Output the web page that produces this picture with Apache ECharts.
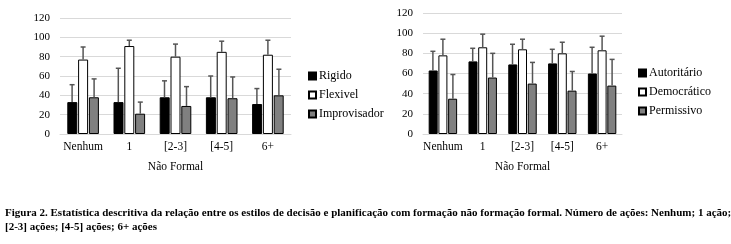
<!DOCTYPE html>
<html lang="pt">
<head>
    <meta charset="UTF-8">
    <title>Figura 2</title>
    <script src="https://cdn.jsdelivr.net/npm/echarts@6/dist/echarts.min.js"></script>
    <style>
        html, body { margin: 0; padding: 0; background: #fff; }
    </style>
</head>
<body>
   <div id="main" style="width: 731px;height:244px;"></div>
   <script type="text/javascript">
       // categorias (número de ações)
       var categorias = ['Nenhum', '1', '[2-3]', '[4-5]', '6+'];

       // gráfico da esquerda: estilos de decisão
       var nomesEsq = ['Rigido', 'Flexivel', 'Improvisador'];
       var rigido       = [33, 33, 38, 38, 31];
       var rigidoDP     = [18, 35, 17, 22, 16];
       var flexivel     = [77, 91, 80, 85, 82];
       var flexivelDP   = [13, 6, 13, 11, 15];
       var improvisador = [38, 21, 29, 37, 40];
       var improvisadorDP = [19, 12, 20, 22, 27];

       // gráfico da direita: estilos de planificação
       var nomesDir = ['Autoritário', 'Democrático', 'Permissivo'];
       var autoritario   = [63, 72, 69, 70, 60];
       var autoritarioDP = [19, 13, 20, 14, 26];
       var democratico   = [78, 86, 84, 80, 83];
       var democraticoDP = [16, 13, 10, 11, 14];
       var permissivo    = [35, 56, 50, 43, 48];
       var permissivoDP  = [24, 24, 21, 19, 26];

       var serif = 'Liberation Serif';
       var cores = ['#000000', '#ffffff', '#808080'];

       var myChart = echarts.init(document.getElementById('main'));

       function barra(nome, dados, cor, eixo, largura) {
           return {
               name: nome, type: 'bar', xAxisIndex: eixo, yAxisIndex: eixo,
               data: dados, barWidth: largura, barGap: '8%',
               itemStyle: { color: cor, borderColor: '#000', borderWidth: 1 },
               z: 2
           };
       }

       // barras de erro (só o lado positivo, como no original)
       function erro(medias, dp, pos, eixo, largura) {
           var dados = medias.map(function (m, i) { return [i, m, m + dp[i]]; });
           return {
               type: 'custom', xAxisIndex: eixo, yAxisIndex: eixo,
               data: dados, z: 3, silent: true,
               renderItem: function (params, api) {
                   var base = api.coord([api.value(0), api.value(1)]);
                   var topo = api.coord([api.value(0), api.value(2)]);
                   var x = base[0] + (pos - 1) * (largura + 1);
                   var c = 2.5;
                   var st = { stroke: '#555', lineWidth: 1.5 };
                   return {
                       type: 'group',
                       children: [
                           { type: 'line', shape: { x1: x, y1: base[1], x2: x, y2: topo[1] }, style: st },
                           { type: 'line', shape: { x1: x - c, y1: topo[1], x2: x + c, y2: topo[1] }, style: st }
                       ]
                   };
               }
           };
       }

       function eixoX(g) {
           return {
               type: 'category', gridIndex: g, data: categorias,
               axisLine: { lineStyle: { color: '#d9d9d9', width: 1 } },
               axisTick: { show: false },
               axisLabel: { color: '#000', fontFamily: serif, fontSize: 11.5, margin: 7, interval: 0 },
               name: 'Não Formal', nameLocation: 'middle', nameGap: 27,
               nameTextStyle: { color: '#000', fontFamily: serif, fontSize: 11.5 }
           };
       }

       function eixoY(g) {
           return {
               type: 'value', gridIndex: g, min: 0, max: 120, interval: 20,
               axisLine: { show: false }, axisTick: { show: false },
               axisLabel: { color: '#000', fontFamily: serif, fontSize: 11, margin: 10 },
               splitLine: { lineStyle: { color: '#d9d9d9', width: 1 } }
           };
       }

       var legStyle = { color: '#000', fontFamily: serif, fontSize: 12, padding: [0, 0, 0, -2] };

       var option = {
           animation: false,
           title: {
               text: 'Figura 2. Estatística descritiva da relação entre os estilos de decisão e planificação com formação não formação formal. Número de ações: Nenhum; 1 ação;\n[2-3] ações; [4-5] ações; 6+ ações',
               left: 0, top: 201, padding: [5, 5],
               textStyle: { fontFamily: serif, fontWeight: 'bold', fontSize: 11, color: '#000', lineHeight: 14 }
           },
           grid: [
               { left: 60, top: 18, width: 231, height: 116 },
               { left: 423, top: 13, width: 199, height: 121 }
           ],
           xAxis: [eixoX(0), eixoX(1)],
           yAxis: [eixoY(0), eixoY(1)],
           legend: [
               {
                   data: nomesEsq, orient: 'vertical', left: 303, top: 65,
                   itemWidth: 7, itemHeight: 7, itemGap: 7,
                   icon: 'rect', textStyle: legStyle
               },
               {
                   data: nomesDir, orient: 'vertical', left: 633, top: 62,
                   itemWidth: 7, itemHeight: 7, itemGap: 7,
                   icon: 'rect', textStyle: legStyle
               }
           ],
           series: [
               barra('Rigido', rigido, cores[0], 0, 10),
               barra('Flexivel', flexivel, cores[1], 0, 10),
               barra('Improvisador', improvisador, cores[2], 0, 10),
               erro(rigido, rigidoDP, 0, 0, 10),
               erro(flexivel, flexivelDP, 1, 0, 10),
               erro(improvisador, improvisadorDP, 2, 0, 10),
               barra('Autoritário', autoritario, cores[0], 1, 9),
               barra('Democrático', democratico, cores[1], 1, 9),
               barra('Permissivo', permissivo, cores[2], 1, 9),
               erro(autoritario, autoritarioDP, 0, 1, 9),
               erro(democratico, democraticoDP, 1, 1, 9),
               erro(permissivo, permissivoDP, 2, 1, 9)
           ]
       };

       myChart.setOption(option);
   </script>
</body>
</html>
